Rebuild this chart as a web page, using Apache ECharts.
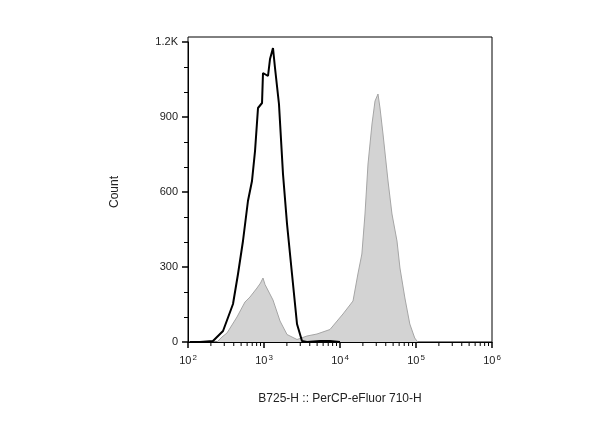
<!DOCTYPE html>
<html>
<head>
<meta charset="utf-8">
<script src="https://cdn.jsdelivr.net/npm/echarts@6/dist/echarts.min.js"></script>
<style>html,body{margin:0;padding:0;background:#fff}#c{width:600px;height:427px}</style>
</head>
<body>
<div id="c"></div>
<script>
// Unstained / control (black outline)
const controlX = [106,144,213,289,391,455,529,615,695,762,834,942,970,1129,1200,1313,1396,1574,1778,2009,2336,2718,3162,3681,5500,7380,10000];
const controlY = [0,0,4,44,152,272,404,564,644,764,936,956,1076,1064,1132,1176,1096,952,672,472,272,72,4,0,4,4,0];
// Stained sample (grey filled)
const stainX = [241,280,326,441,510,562,654,809,900,970,1031,1095,1313,1625,2009,2718,3681,4977,7380,10940,14830,17200,19400,21320,23360,26360,28900,31620,33600,36800,42840,48300,56230,61500,71400,82900,96200,105400];
const stainY = [0,20,36,100,136,160,180,216,236,256,230,232,168,84,30,10,24,32,50,112,164,272,352,512,712,872,964,992,936,832,644,512,404,296,176,72,16,0];
// Axis ticks
const yTicks = [0,300,600,900,1200];
const yTickLabels = ['0','300','600','900','1.2K'];
const xDecades = [100,1000,10000,100000,1000000];
const xMinor = [];
for (const d of [100,1000,10000,100000]) for (let k=2;k<=9;k++) xMinor.push(k*d);

const zip = (a,b) => a.map((v,i)=>[v,b[i]]);
const chart = echarts.init(document.getElementById('c'));
const font = 'Liberation Sans, Arial, sans-serif';
chart.setOption({
  animation:false,
  backgroundColor:'#fff',
  grid:[
    {left:188,right:108,top:42,bottom:85},
    {left:188,right:108,top:37,bottom:85,show:true,borderColor:'#000',borderWidth:1,backgroundColor:'transparent'}
  ],
  xAxis:[
    {gridIndex:0,type:'log',logBase:10,min:xDecades[0],max:xDecades[xDecades.length-1],
     name:'B725-H :: PerCP-eFluor 710-H',nameLocation:'middle',nameGap:51,
     nameTextStyle:{fontFamily:font,fontSize:12,color:'#222'},
     axisLine:{lineStyle:{color:'#000',width:1}},
     axisTick:{show:true,length:6,lineStyle:{color:'#000',width:1.5}},
     splitLine:{show:false},
     axisLabel:{margin:12,fontFamily:font,fontSize:11,color:'#222',
       formatter:v=>'10{s|'+Math.round(Math.log10(v))+'}',
       rich:{s:{fontFamily:font,fontSize:8,color:'#222',verticalAlign:'bottom',padding:[0,0,6,1]}}}},
    {gridIndex:1,type:'value',show:false}
  ],
  yAxis:[
    {gridIndex:0,type:'value',min:0,max:1200,interval:300,
     name:'Count',nameLocation:'middle',nameGap:67,nameRotate:90,
     nameTextStyle:{fontFamily:font,fontSize:12,color:'#222'},
     axisLine:{show:true,lineStyle:{color:'#000',width:1}},
     axisTick:{show:true,length:6,lineStyle:{color:'#000',width:1.5}},
     minorTick:{show:true,splitNumber:3,length:4,lineStyle:{color:'#000',width:1}},
     splitLine:{show:false},
     axisLabel:{margin:10,fontFamily:font,fontSize:11,color:'#222',
       formatter:v=>{const i=yTicks.indexOf(v);return i>=0?yTickLabels[i]:'';}}},
    {gridIndex:1,type:'value',show:false}
  ],
  series:[
    {type:'line',xAxisIndex:0,yAxisIndex:0,data:zip(stainX,stainY),showSymbol:false,
     lineStyle:{color:'#a5a5a5',width:1},areaStyle:{color:'#d3d3d3',opacity:1,origin:'start'},z:2},
    {type:'line',xAxisIndex:0,yAxisIndex:0,data:zip(controlX,controlY),showSymbol:false,
     lineStyle:{color:'#000',width:2},z:3},
    {type:'custom',xAxisIndex:0,yAxisIndex:0,clip:false,silent:true,z:4,
     data:xMinor.map(v=>[v,0]),encode:{x:0,y:1},
     renderItem:(params,api)=>{const p=api.coord([api.value(0),0]);
       return {type:'line',shape:{x1:p[0],y1:p[1],x2:p[0],y2:p[1]+4},style:{stroke:'#000',lineWidth:1}};}}
  ]
});
</script>
</body>
</html>
